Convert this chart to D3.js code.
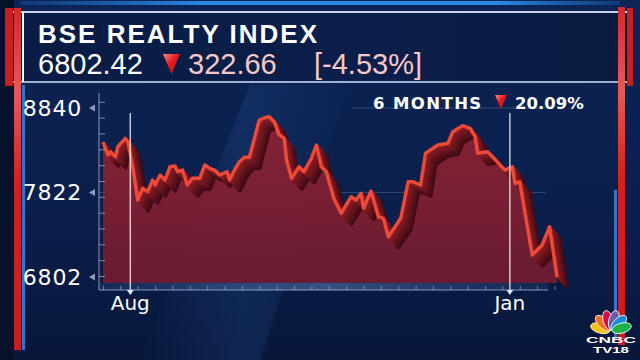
<!DOCTYPE html>
<html>
<head>
<meta charset="utf-8">
<script src="https://cdn.jsdelivr.net/npm/d3@7"></script>
<style>
  html, body { margin: 0; padding: 0; background: #081632; overflow: hidden; }
  svg { display: block; }
</style>
</head>
<body>
<svg id="chart" width="640" height="360"></svg>
<script>
// header numbers
const title = 'BSE REALTY INDEX'
const lastValue = '6802.42'
const change = '322.66'
const changePct = '[-4.53%]'
const periodLabel = '6 MONTHS'
const periodChange = '20.09%'

// series
const dates = ['2024-07-21','2024-07-23','2024-07-24','2024-07-26','2024-07-27','2024-07-30','2024-07-31','2024-08-02','2024-08-04','2024-08-06',
  '2024-08-08','2024-08-10','2024-08-11','2024-08-13','2024-08-15','2024-08-17','2024-08-19','2024-08-20','2024-08-22','2024-08-24',
  '2024-08-26','2024-08-29','2024-08-31','2024-09-02','2024-09-04','2024-09-06','2024-09-09','2024-09-10','2024-09-12','2024-09-14',
  '2024-09-16','2024-09-18','2024-09-22','2024-09-24','2024-09-26','2024-09-28','2024-09-30','2024-10-02','2024-10-03','2024-10-05',
  '2024-10-08','2024-10-10','2024-10-13','2024-10-15','2024-10-17','2024-10-19','2024-10-22','2024-10-25','2024-10-29','2024-10-31',
  '2024-11-02','2024-11-03','2024-11-06','2024-11-09','2024-11-11','2024-11-13','2024-11-18','2024-11-21','2024-11-23','2024-11-26',
  '2024-11-28','2024-11-30','2024-12-03','2024-12-07','2024-12-09','2024-12-13','2024-12-16','2024-12-18','2024-12-19','2024-12-23',
  '2024-12-25','2024-12-28','2024-12-30','2025-01-02','2025-01-03','2025-01-05','2025-01-07','2025-01-10','2025-01-14','2025-01-17',
  '2025-01-20']
const values = [8430,8273,8313,8253,8373,8475,8434,8132,7731,7872,
  7831,7972,7912,8032,7972,8132,8141,8072,8092,7912,
  7992,7992,8153,8113,8092,8032,8072,7972,8092,8193,
  8246,8246,8695,8720,8735,8675,8515,8475,8213,7992,
  8132,8072,8234,8394,8132,8072,7751,7570,7770,7731,
  7811,7630,7839,7529,7510,7288,7510,7951,7951,7912,
  8294,8334,8394,8414,8554,8627,8595,8494,8294,8313,
  8253,8153,8092,8132,7932,7951,7590,7067,7188,7409,
  6802]

const yLabels = [8840, 7822, 6802]
const monthDates = ['2024-08-01', '2025-01-01']
const monthLabels = ['Aug', 'Jan']

const parse = d3.timeParse('%Y-%m-%d')
const data = dates.map((d, i) => ({ date: parse(d), value: values[i] }))

const svg = d3.select('svg#chart')
const defs = svg.append('defs')

function linGrad(id, x1, y1, x2, y2, stops) {
  const g = defs.append('linearGradient').attr('id', id)
    .attr('x1', x1).attr('y1', y1).attr('x2', x2).attr('y2', y2)
  stops.forEach(s => g.append('stop').attr('offset', s[0]).attr('stop-color', s[1]).attr('stop-opacity', s[2] == null ? 1 : s[2]))
}

linGrad('bg', 0, 0, 0, 1, [[0, '#0c2456'], [0.6, '#0a1f4b'], [1, '#08173a']])
linGrad('beam', 0, 0, 1, 0, [[0, '#2a5aa0', 0], [0.5, '#2a5aa0', 0.22], [1, '#2a5aa0', 0]])
linGrad('head', 0, 0, 1, 0, [[0, '#0a1c44'], [0.6, '#0b1f4a'], [1, '#0a1a3e']])
linGrad('topStrip', 0, 0, 1, 0, [[0, '#1d6cc6', 0.3], [0.3, '#2b86e0'], [0.8, '#2b86e0'], [1, '#1d6cc6', 0.3]])
linGrad('redBar', 0, 0, 0, 1, [[0, '#d42a2a'], [0.25, '#e35b5b'], [0.5, '#d42020'], [1, '#c81e1e']])
linGrad('areaFill', 0, 0, 0, 1, [[0, '#8c2234', 0.95], [1, '#6e1b31', 0.95]])
linGrad('floor', 0, 0, 1, 0, [[0, '#3a5c96', 0.25], [0.5, '#5a7cb8', 0.55], [1, '#3a5c96', 0.2]])
linGrad('tri', 0, 0, 1, 1, [[0, '#ff8a8a'], [0.45, '#e21b1b'], [1, '#b80f0f']])

// background
svg.append('rect').attr('width', 640).attr('height', 360).attr('fill', 'url(#bg)')
svg.append('rect').attr('width', 14).attr('height', 360).attr('fill', '#06112a')
svg.append('path').attr('d', 'M250,85 L350,85 L260,360 L140,360 Z').attr('fill', 'url(#beam)')

// header
svg.append('rect').attr('x', 10).attr('y', 12).attr('width', 620).attr('height', 70).attr('fill', 'url(#head)')
svg.append('rect').attr('x', 20).attr('y', 1).attr('width', 600).attr('height', 4).attr('fill', 'url(#topStrip)')
svg.append('line').attr('x1', 10).attr('x2', 630).attr('y1', 12).attr('y2', 12).attr('stroke', '#c9d3e6').attr('stroke-width', 2)
svg.append('line').attr('x1', 10).attr('x2', 630).attr('y1', 82).attr('y2', 82).attr('stroke', '#9fb2d4').attr('stroke-width', 2)
svg.append('line').attr('x1', 23).attr('x2', 23).attr('y1', 12).attr('y2', 82).attr('stroke', '#ffffff').attr('stroke-width', 2)

// side bars
svg.append('rect').attr('x', 5).attr('y', 8).attr('width', 8).attr('height', 78).attr('fill', '#c82020')
svg.append('rect').attr('x', 14).attr('y', 8).attr('width', 7).attr('height', 342).attr('fill', 'url(#redBar)')
svg.append('rect').attr('x', 22).attr('y', 85).attr('width', 3).attr('height', 265).attr('fill', '#2a78d0')
svg.append('rect').attr('x', 618).attr('y', 7).attr('width', 7).attr('height', 338).attr('fill', 'url(#redBar)')
svg.append('rect').attr('x', 627).attr('y', 8).attr('width', 6).attr('height', 78).attr('fill', '#c82020')
svg.append('rect').attr('x', 614).attr('y', 190).attr('width', 3).attr('height', 150).attr('fill', '#2a78d0')

svg.append('text').text(title)
  .attr('x', 38).attr('y', 43)
  .attr('font-family', 'Liberation Sans, Arial, sans-serif').attr('font-weight', 'bold')
  .attr('font-size', 26).attr('letter-spacing', 2).attr('fill', '#ffffff')
svg.append('text').text(lastValue)
  .attr('x', 38).attr('y', 74)
  .attr('font-family', 'Liberation Sans, Arial, sans-serif')
  .attr('font-size', 29).attr('fill', '#ffffff')
svg.append('path').attr('d', 'M163,54 L180,54 L171.5,74 Z').attr('fill', 'url(#tri)')
svg.append('text').text(change)
  .attr('x', 188).attr('y', 74)
  .attr('font-family', 'Liberation Sans, Arial, sans-serif')
  .attr('font-size', 29).attr('fill', '#f7c9c9')
svg.append('text').text(changePct)
  .attr('x', 314).attr('y', 74)
  .attr('font-family', 'Liberation Sans, Arial, sans-serif')
  .attr('font-size', 29).attr('fill', '#f7c9c9')

// scales
const x = d3.scaleTime().domain(d3.extent(data, d => d.date)).range([103, 557])
const y = d3.scaleLinear().domain([6802, 8840]).range([277, 108])
const base = y(6802) + 6

// grid lines
svg.append('line').attr('x1', 99).attr('x2', 546).attr('y1', y(7822)).attr('y2', y(7822))
  .attr('stroke', '#8ea3c8').attr('stroke-opacity', 0.3)
svg.append('line').attr('x1', 352).attr('x2', 546).attr('y1', y(8840)).attr('y2', y(8840))
  .attr('stroke', '#8ea3c8').attr('stroke-opacity', 0.3)

// area
const area = d3.area().x(d => x(d.date)).y0(base).y1(d => y(d.value))
svg.append('path').datum(data).attr('d', area).attr('fill', 'url(#areaFill)')

// floor band
svg.append('rect').attr('x', 99).attr('y', base).attr('width', 449).attr('height', 7).attr('fill', 'url(#floor)')

// extruded ribbon behind the line
const line = d3.line().x(d => x(d.date)).y(d => y(d.value))
const ribbon = svg.append('g')
d3.range(16, 0, -1).forEach(k => {
  ribbon.append('path').datum(data).attr('d', line)
    .attr('transform', `translate(${k * 0.65},${k * 0.7})`)
    .attr('fill', 'none')
    .attr('stroke', d3.interpolateRgb('#8e1e24', '#3e0b16')(k / 16))
    .attr('stroke-width', 3).attr('stroke-linejoin', 'round')
})
svg.append('path').datum(data).attr('d', line)
  .attr('fill', 'none').attr('stroke', '#ee4a3a').attr('stroke-width', 3.4)
  .attr('stroke-linejoin', 'round')

// y axis
svg.append('line').attr('x1', 99).attr('x2', 99).attr('y1', 93).attr('y2', 290)
  .attr('stroke', '#a9b7d2').attr('stroke-opacity', 0.8)
const yAxis = d3.axisRight(y).tickValues(d3.range(6814, 8930, 191)).tickSize(6).tickFormat('')
svg.append('g').attr('transform', 'translate(99,0)').call(yAxis)
  .call(g => g.select('.domain').remove())
  .call(g => g.selectAll('line').attr('stroke', '#a9b7d2').attr('stroke-opacity', 0.7))

svg.append('g').selectAll('text').data(yLabels).enter()
  .append('text').text(d => d)
  .attr('x', 82).attr('y', d => y(d) + 8)
  .attr('text-anchor', 'end')
  .attr('font-family', 'DejaVu Sans, sans-serif').attr('font-size', 22)
  .attr('letter-spacing', 0.8).attr('fill', '#ffffff')
svg.append('g').selectAll('path').data(yLabels).enter()
  .append('path').attr('d', d => `M89,${y(d)} L95,${y(d) - 3.5} L95,${y(d) + 3.5} Z`)
  .attr('fill', '#8c9cba')

// x axis
svg.append('line').attr('x1', 99).attr('x2', 548).attr('y1', 290).attr('y2', 290)
  .attr('stroke', '#a9b7d2').attr('stroke-opacity', 0.8)
const xAxis = d3.axisTop(x).ticks(d3.timeWeek.every(1)).tickSize(4).tickFormat('')
svg.append('g').attr('transform', 'translate(0,290)').call(xAxis)
  .call(g => g.select('.domain').remove())
  .call(g => g.selectAll('line').attr('stroke', '#a9b7d2').attr('stroke-opacity', 0.6))

const months = monthDates.map((d, i) => ({ date: parse(d), label: monthLabels[i] }))
const mg = svg.append('g').selectAll('g').data(months).enter().append('g')
  .attr('transform', d => `translate(${x(d.date)},0)`)
mg.append('line').attr('y1', 113).attr('y2', 290)
  .attr('stroke', '#ffffff').attr('stroke-opacity', 0.75).attr('stroke-width', 1.5)
mg.append('path').attr('d', 'M-3.5,290 L3.5,290 L0,295 Z').attr('fill', '#dfe6f3')
mg.append('text').text(d => d.label)
  .attr('y', 310).attr('text-anchor', 'middle')
  .attr('font-family', 'DejaVu Sans, sans-serif').attr('font-size', 20).attr('fill', '#ffffff')

// 6 months change
svg.append('text').text(periodLabel)
  .attr('x', 373).attr('y', 109)
  .attr('font-family', 'DejaVu Sans, sans-serif').attr('font-weight', 'bold')
  .attr('font-size', 16.5).attr('letter-spacing', 1.4).attr('fill', '#ffffff')
svg.append('path').attr('d', 'M495,95 L507,95 L501,109 Z').attr('fill', 'url(#tri)')
svg.append('text').text(periodChange)
  .attr('x', 515).attr('y', 109)
  .attr('font-family', 'DejaVu Sans, sans-serif').attr('font-weight', 'bold')
  .attr('font-size', 16.5).attr('fill', '#ffffff')

// logo
const logo = svg.append('g').attr('transform', 'translate(611,331)')
const feathers = ['#f6c200', '#f37021', '#d0114c', '#6a5fab', '#1a8ad0', '#1db04b']
logo.selectAll('ellipse').data(feathers).enter()
  .append('ellipse')
  .attr('cx', 0).attr('cy', -11).attr('rx', 5).attr('ry', 10)
  .attr('fill', d => d).attr('stroke', '#ffffff').attr('stroke-width', 0.8)
  .attr('transform', (d, i) => `rotate(${-75 + i * 30})`)
logo.append('text').text('CNBC').attr('y', 12).attr('text-anchor', 'middle')
  .attr('font-family', 'Liberation Sans, Arial, sans-serif').attr('font-weight', 'bold')
  .attr('font-size', 9).attr('textLength', 50).attr('lengthAdjust', 'spacingAndGlyphs')
  .attr('fill', '#ffffff')
logo.append('text').text('TV18').attr('y', 22).attr('text-anchor', 'middle')
  .attr('font-family', 'Liberation Sans, Arial, sans-serif').attr('font-weight', 'bold')
  .attr('font-size', 9).attr('textLength', 36).attr('lengthAdjust', 'spacingAndGlyphs')
  .attr('fill', '#ffffff')
</script>
</body>
</html>
